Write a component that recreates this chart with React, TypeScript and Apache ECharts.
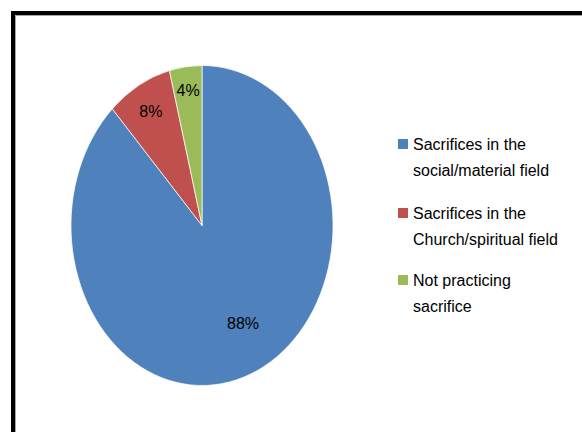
import { useEffect, useRef } from 'react';
import * as echarts from 'echarts';

const categories = [
  'Sacrifices in the\nsocial/material field',
  'Sacrifices in the\nChurch/spiritual field',
  'Not practicing\nsacrifice',
];
const values = [88, 8, 4];
const colors = ['#4F81BD', '#C0504D', '#9BBB59'];
const labelRadius = [0.69, 0.81, 0.85];
const labelAngleShift = [-5.4, 0, 0];
const legendTops = [105, 174, 241];

const FONT = '"Liberation Sans", Arial, sans-serif';

export default function App() {
  const ref = useRef<HTMLDivElement>(null);
  useEffect(() => {
    document.body.style.margin = '0';
    const chart = echarts.init(ref.current!, null, { renderer: 'svg' });
    const total = values.reduce((a, b) => a + b, 0);
    const cx = 202;
    const cy = 225.5;
    const ry = 160;
    const rx = 131;
    const sx = rx / ry;

    const series = categories.map((name, i) => ({
      type: 'custom',
      name,
      coordinateSystem: 'none',
      itemStyle: { color: colors[i] },
      data: [values[i]],
      renderItem: (params: any, api: any) => {
        const v = api.value(0);
        let before = 0;
        for (let j = 0; j < i; j++) before += values[j];
        const f0 = before / total;
        const f1 = (before + v) / total;
        const fm = (f0 + f1) / 2;
        const th = fm * Math.PI * 2 + (labelAngleShift[i] * Math.PI) / 180;
        const k = labelRadius[i];
        const pct = Math.round((v / total) * 100) + '%';
        return {
          type: 'group',
          children: [
            {
              type: 'sector',
              x: cx,
              y: cy,
              scaleX: sx,
              scaleY: 1,
              shape: {
                cx: 0,
                cy: 0,
                r0: 0,
                r: ry,
                startAngle: -Math.PI / 2 + f0 * Math.PI * 2,
                endAngle: -Math.PI / 2 + f1 * Math.PI * 2,
                clockwise: true,
              },
              style: { fill: colors[i], stroke: '#ffffff', lineWidth: 0.8 },
            },
            {
              type: 'text',
              x: cx + rx * k * Math.sin(th),
              y: cy - ry * k * Math.cos(th),
              style: {
                text: pct,
                fontSize: 16,
                fontFamily: FONT,
                fill: '#000',
                align: 'center',
                verticalAlign: 'middle',
              },
            },
          ],
        };
      },
    }));

    const option: any = {
      animation: false,
      backgroundColor: '#ffffff',
      graphic: [
        {
          type: 'rect',
          silent: true,
          shape: { x: 13, y: 13, width: 700, height: 600 },
          style: { fill: 'none', stroke: '#000', lineWidth: 4 },
        },
        {
          type: 'rect',
          silent: true,
          shape: { x: 15.5, y: 15.5, width: 700, height: 600 },
          style: { fill: 'none', stroke: '#a6a6a6', lineWidth: 1 },
        },
      ],
      legend: categories.map((name, i) => ({
        data: [name],
        left: 398,
        top: legendTops[i],
        padding: 0,
        orient: 'vertical',
        icon: 'rect',
        itemWidth: 10,
        itemHeight: 10,
        itemGap: 0,
        selectedMode: false,
        itemStyle: { borderWidth: 0 },
        formatter: (n: string) => '\n' + n,
        textStyle: {
          fontSize: 16,
          fontFamily: FONT,
          color: '#000',
          lineHeight: 26,
        },
      })),
      series,
    };
    chart.setOption(option);
    return () => chart.dispose();
  }, []);
  return <div ref={ref} style={{ width: 582, height: 432 }} />;
}
